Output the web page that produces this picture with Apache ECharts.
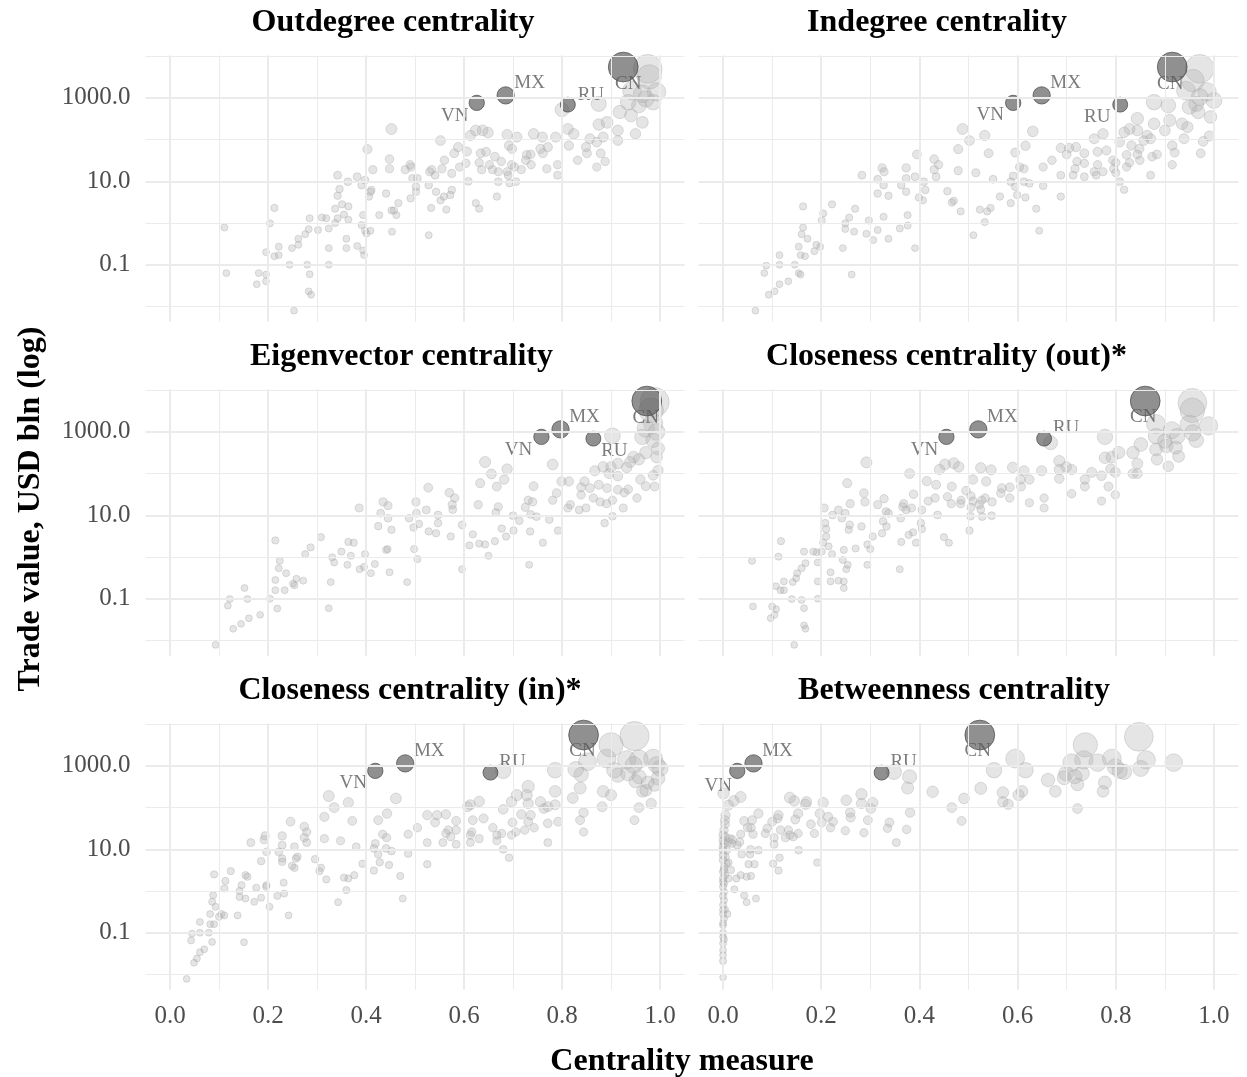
<!DOCTYPE html>
<html>
<head>
<meta charset="utf-8">
<script src="https://cdn.jsdelivr.net/npm/echarts@6/dist/echarts.min.js"></script>
<style>html,body{margin:0;padding:0;background:#fff}#main{width:1247px;height:1077px}</style>
</head>
<body>
<div id="main"></div>
<script>
// ---------- DATA ----------
const panelTitles = ['Outdegree centrality','Indegree centrality','Eigenvector centrality','Closeness centrality (out)*','Closeness centrality (in)*','Betweenness centrality'];
const xTickLabels = ['0.0','0.2','0.4','0.6','0.8','1.0'];
const yTickLabels = ['0.1','10.0','1000.0'];

// highlighted countries: trade value (USD bln) and centrality in each panel
const hlCountries = ['CN','MX','RU','VN'];
const hlTrade = [5500, 1150, 690, 760];
const hlOutdegree   = [0.925, 0.685, 0.812, 0.626];
const hlIndegree    = [0.915, 0.649, 0.809, 0.591];
const hlEigenvector = [0.973, 0.797, 0.864, 0.758];
const hlClosOut     = [0.860, 0.520, 0.654, 0.455];
const hlClosIn      = [0.844, 0.480, 0.654, 0.419];
const hlBetween     = [0.523, 0.062, 0.323, 0.029];

// other countries: [centrality, trade value USD bln]
const outdegree = [[0.975,5000],[0.978,3200],[0.943,1500],[0.964,1260],[0.993,1400],[0.971,950],[0.986,790],[0.957,660],[0.935,790],[0.875,720],[0.8,520],[0.918,460],[0.941,380],[0.964,260],[0.892,260],[0.875,230],[0.914,166],[0.95,138],[0.812,180],[0.824,138],[0.857,105],[0.884,115],[0.914,95],[0.871,87],[0.814,72],[0.849,66],[0.851,47],[0.879,47],[0.888,30],[0.871,22],[0.832,32],[0.791,25],[0.791,14],[0.769,20],[0.787,115],[0.76,115],[0.742,138],[0.771,66],[0.756,60],[0.761,47],[0.736,44],[0.728,43],[0.726,32],[0.737,25],[0.717,19],[0.708,115],[0.688,132],[0.692,72],[0.698,60],[0.697,25],[0.703,22],[0.688,17],[0.69,14],[0.706,9.8],[0.693,9.1],[0.67,9.8],[0.667,4.3],[0.67,17],[0.676,30],[0.663,39],[0.658,19],[0.652,25],[0.649,148],[0.638,166],[0.624,166],[0.613,126],[0.645,51],[0.634,47],[0.631,28],[0.636,19],[0.606,52],[0.604,27],[0.609,10],[0.624,3.0],[0.631,2.2],[0.588,66],[0.58,47],[0.591,22],[0.575,15.5],[0.575,6.2],[0.572,4.7],[0.564,2.1],[0.559,4.3],[0.552,3.5],[0.56,32],[0.552,95],[0.555,20],[0.541,14],[0.543,5.6],[0.533,2.3],[0.528,0.51],[0.528,8.1],[0.534,19],[0.53,17],[0.505,11.7],[0.502,7.4],[0.495,11.7],[0.492,22],[0.49,25],[0.502,5.6],[0.491,3.9],[0.48,19],[0.466,3.0],[0.462,1.55],[0.457,2.0],[0.452,2.0],[0.453,0.62],[0.441,5.1],[0.448,20],[0.448,34],[0.452,180],[0.427,1.55],[0.414,19],[0.411,6.2],[0.406,4.3],[0.409,5.6],[0.403,59],[0.398,10.7],[0.391,8.1],[0.382,12.9],[0.363,9.8],[0.398,0.65],[0.401,0.56],[0.394,1.55],[0.391,0.89],[0.409,0.65],[0.394,0.22],[0.396,0.17],[0.382,0.28],[0.36,0.42],[0.36,0.25],[0.342,14],[0.346,6.5],[0.342,4.5],[0.351,2.8],[0.364,2.5],[0.355,1.6],[0.337,2.2],[0.342,1.3],[0.337,1.0],[0.364,1.2],[0.319,1.3],[0.31,1.35],[0.324,0.74],[0.324,0.25],[0.324,0.10],[0.302,0.68],[0.285,1.3],[0.283,0.71],[0.276,0.54],[0.262,0.42],[0.262,0.30],[0.249,0.25],[0.244,0.10],[0.28,0.10],[0.285,0.059],[0.283,0.023],[0.288,0.019],[0.253,0.0079],[0.222,0.27],[0.222,0.17],[0.213,0.16],[0.196,0.20],[0.213,2.3],[0.204,0.98],[0.181,0.063],[0.196,0.058],[0.196,0.040],[0.177,0.034],[0.115,0.063],[0.111,0.78]];

const indegree = [[0.971,5000],[0.957,2600],[0.943,1500],[0.986,1400],[0.971,1050],[1.0,870],[0.964,720],[0.95,600],[0.968,460],[0.993,350],[0.907,660],[0.878,790],[0.91,290],[0.935,240],[0.946,200],[0.9,166],[0.878,240],[0.844,320],[0.844,166],[0.828,180],[0.817,150],[0.864,126],[0.871,105],[0.857,95],[0.808,87],[0.832,72],[0.848,60],[0.822,43],[0.844,44],[0.849,32],[0.828,28],[0.822,22],[0.874,39],[0.884,44],[0.915,72],[0.92,49],[0.939,105],[0.915,25],[0.871,14],[0.973,47],[0.978,91],[0.991,123],[0.8,28],[0.796,20],[0.8,16],[0.808,9.8],[0.817,6.3],[0.794,32],[0.781,55],[0.763,51],[0.774,138],[0.756,105],[0.763,25],[0.774,17],[0.756,17],[0.76,14],[0.736,47],[0.736,27],[0.736,12.9],[0.719,66],[0.705,63],[0.7,44],[0.688,63],[0.721,30],[0.717,20],[0.713,14],[0.688,14],[0.688,4.3],[0.67,32],[0.652,22],[0.652,7.8],[0.631,158],[0.616,71],[0.613,20],[0.604,22],[0.613,9.8],[0.624,8.9],[0.616,4.1],[0.638,2.2],[0.644,0.65],[0.595,49],[0.591,13.5],[0.595,7.4],[0.586,9.8],[0.599,4.7],[0.586,3.0],[0.564,4.3],[0.55,11.2],[0.541,47],[0.533,126],[0.515,16],[0.502,95],[0.488,180],[0.479,59],[0.479,18],[0.457,5.8],[0.47,3.4],[0.466,3.1],[0.484,1.9],[0.523,2.1],[0.538,1.9],[0.545,2.3],[0.533,1.05],[0.51,0.51],[0.43,34],[0.439,25],[0.43,19],[0.434,12.9],[0.412,6.2],[0.407,3.5],[0.399,4.1],[0.409,9.8],[0.391,12.9],[0.395,44],[0.373,21],[0.373,11.7],[0.363,8.1],[0.373,5.6],[0.376,1.55],[0.376,0.87],[0.36,0.74],[0.391,0.25],[0.337,0.42],[0.337,4.5],[0.327,8.1],[0.327,1.41],[0.324,21],[0.328,17],[0.315,11.2],[0.315,5.1],[0.297,1.15],[0.315,0.68],[0.306,0.39],[0.292,0.55],[0.283,14],[0.269,2.2],[0.267,0.62],[0.257,1.35],[0.249,0.98],[0.249,0.72],[0.244,0.25],[0.262,0.058],[0.222,2.8],[0.204,1.7],[0.201,1.15],[0.198,0.27],[0.19,0.30],[0.186,0.21],[0.163,2.5],[0.163,0.78],[0.16,0.54],[0.154,0.27],[0.172,0.42],[0.146,0.10],[0.158,0.17],[0.167,0.16],[0.154,0.063],[0.158,0.058],[0.133,0.040],[0.115,0.17],[0.115,0.10],[0.115,0.034],[0.088,0.095],[0.084,0.063],[0.105,0.023],[0.093,0.019],[0.066,0.0079]];

const eigenvector = [[0.989,5200],[0.982,3300],[0.986,1600],[0.971,1200],[0.993,1000],[0.964,760],[0.986,630],[0.996,400],[0.903,810],[0.971,320],[0.993,250],[0.946,250],[0.957,220],[0.939,190],[0.932,141],[0.914,174],[0.9,145],[0.884,145],[0.867,117],[0.896,100],[0.914,87],[0.96,72],[0.986,91],[0.996,120],[0.971,50],[0.989,49],[0.953,26],[0.935,42],[0.927,35],[0.914,41],[0.892,45],[0.875,54],[0.857,45],[0.839,47],[0.846,65],[0.864,26],[0.878,21],[0.891,19],[0.903,23],[0.925,15],[0.903,9.5],[0.887,6.5],[0.839,31],[0.849,15],[0.835,13.5],[0.817,18],[0.812,15],[0.799,65],[0.814,65],[0.781,166],[0.781,23],[0.789,34],[0.774,7.9],[0.792,4.3],[0.761,2.2],[0.742,50],[0.731,23],[0.74,21],[0.725,15.5],[0.736,10.5],[0.748,9.3],[0.713,7.4],[0.7,9.8],[0.701,4.3],[0.735,4.1],[0.733,0.65],[0.688,129],[0.656,98],[0.682,72],[0.667,49],[0.67,16],[0.665,11.7],[0.677,4.8],[0.686,3.1],[0.663,2.4],[0.643,190],[0.633,59],[0.629,18],[0.618,3.5],[0.631,2.1],[0.643,2.0],[0.611,1.9],[0.65,1.07],[0.596,5.9],[0.596,0.51],[0.573,3.1],[0.577,13.8],[0.581,26],[0.57,35],[0.576,18],[0.547,10.2],[0.547,6.5],[0.543,3.7],[0.528,4.1],[0.527,46],[0.523,13.5],[0.502,21],[0.503,11.2],[0.508,6.2],[0.497,5.1],[0.498,1.55],[0.505,0.89],[0.488,8.5],[0.484,0.25],[0.452,4.5],[0.445,8.5],[0.445,17],[0.435,21],[0.43,11.2],[0.425,5.5],[0.441,1.48],[0.444,1.55],[0.448,0.43],[0.418,0.68],[0.41,0.41],[0.398,1.17],[0.396,0.58],[0.387,0.51],[0.386,15],[0.369,1.07],[0.364,2.3],[0.375,2.2],[0.362,0.65],[0.35,1.35],[0.335,0.74],[0.331,0.98],[0.328,0.25],[0.324,0.059],[0.308,3.0],[0.287,1.7],[0.276,1.17],[0.272,0.27],[0.258,0.30],[0.251,0.23],[0.254,0.21],[0.237,0.41],[0.224,0.81],[0.222,0.54],[0.215,0.28],[0.215,0.16],[0.215,2.5],[0.219,0.058],[0.234,0.16],[0.204,0.10],[0.184,0.041],[0.158,0.098],[0.152,0.18],[0.161,0.034],[0.145,0.025],[0.129,0.019],[0.122,0.098],[0.118,0.068],[0.093,0.0078]];

const closenessOut = [[0.956,5000],[0.956,3300],[0.882,1550],[0.914,1100],[0.95,1500],[0.989,1400],[0.957,950],[0.925,790],[0.964,630],[0.882,790],[0.9,600],[0.882,380],[0.903,460],[0.922,420],[0.928,260],[0.884,220],[0.851,500],[0.835,320],[0.844,174],[0.907,150],[0.778,760],[0.667,550],[0.806,320],[0.778,240],[0.792,250],[0.79,129],[0.799,107],[0.771,89],[0.835,100],[0.844,100],[0.799,31],[0.785,49],[0.771,22],[0.751,107],[0.737,72],[0.737,49],[0.71,126],[0.71,33],[0.685,200],[0.685,126],[0.685,76],[0.699,145],[0.649,117],[0.654,26],[0.654,15],[0.624,20],[0.624,72],[0.613,117],[0.606,72],[0.607,49],[0.59,141],[0.584,47],[0.584,26],[0.568,45],[0.566,34],[0.548,21],[0.536,65],[0.534,26],[0.525,138],[0.546,123],[0.509,72],[0.495,39],[0.505,29],[0.509,22],[0.527,23],[0.522,18],[0.525,13.8],[0.505,15.5],[0.504,9.5],[0.528,9.3],[0.547,9.8],[0.502,4.3],[0.485,23],[0.484,19],[0.466,49],[0.465,19],[0.457,28],[0.47,178],[0.452,166],[0.441,126],[0.48,145],[0.45,3.0],[0.46,2.2],[0.434,54],[0.415,66],[0.432,26],[0.418,22],[0.437,10.2],[0.405,13.5],[0.403,6.5],[0.405,4.7],[0.393,2.2],[0.38,100],[0.388,32],[0.384,15],[0.373,13.5],[0.368,19],[0.362,8.5],[0.366,16],[0.378,3.4],[0.387,3.9],[0.363,2.3],[0.36,0.51],[0.337,11.2],[0.333,5.4],[0.326,7.2],[0.324,3.7],[0.332,12.3],[0.328,25],[0.315,18],[0.305,3.1],[0.294,2.0],[0.3,1.55],[0.294,0.65],[0.289,21],[0.287,34],[0.292,186],[0.282,5.4],[0.27,1.6],[0.259,19],[0.253,59],[0.258,5.9],[0.256,4.5],[0.249,11.2],[0.242,8.5],[0.235,13.5],[0.254,0.65],[0.251,0.51],[0.246,1.48],[0.244,0.85],[0.246,0.26],[0.246,0.18],[0.235,0.27],[0.219,0.43],[0.219,0.26],[0.223,10.2],[0.222,1.17],[0.215,1.8],[0.206,15],[0.208,6.5],[0.21,4.7],[0.21,3.1],[0.204,2.2],[0.201,1.35],[0.191,1.3],[0.193,0.74],[0.193,0.26],[0.193,0.10],[0.184,1.35],[0.165,1.35],[0.168,0.71],[0.16,0.54],[0.151,0.41],[0.149,0.31],[0.142,0.25],[0.16,0.093],[0.165,0.059],[0.165,0.023],[0.168,0.019],[0.124,0.26],[0.118,2.4],[0.113,1.02],[0.108,0.20],[0.117,0.16],[0.124,0.16],[0.14,0.098],[0.1,0.065],[0.108,0.056],[0.105,0.041],[0.097,0.034],[0.059,0.81],[0.061,0.065],[0.145,0.0078]];

const closenessIn = [[0.948,5200],[0.9,3200],[0.891,1500],[0.852,1260],[0.932,1400],[0.957,1450],[0.986,1500],[0.993,1050],[0.946,1050],[1.0,870],[0.907,790],[0.914,600],[0.935,660],[0.957,550],[0.95,430],[0.975,400],[0.996,510],[0.989,350],[0.964,245],[0.971,260],[0.828,830],[0.839,620],[0.786,790],[0.68,760],[0.837,295],[0.822,170],[0.884,245],[0.9,200],[0.882,105],[0.844,76],[0.837,50],[0.844,26],[0.957,100],[0.982,126],[0.948,50],[0.786,245],[0.786,117],[0.771,105],[0.763,95],[0.756,138],[0.792,46],[0.771,42],[0.771,14.5],[0.743,33],[0.731,320],[0.731,126],[0.728,200],[0.708,200],[0.697,138],[0.717,69],[0.731,46],[0.736,66],[0.724,29],[0.706,26],[0.699,44],[0.697,22],[0.68,91],[0.677,24],[0.667,22],[0.659,33],[0.667,16],[0.68,10],[0.692,6.3],[0.631,141],[0.613,117],[0.607,105],[0.618,50],[0.64,55],[0.616,26],[0.613,22],[0.631,18],[0.613,14.5],[0.584,48],[0.584,29],[0.568,29],[0.563,24],[0.557,14.5],[0.584,13.2],[0.573,20],[0.563,69],[0.545,66],[0.525,66],[0.541,44],[0.525,14.5],[0.525,4.4],[0.505,33],[0.486,23],[0.486,7.9],[0.47,2.3],[0.475,0.66],[0.461,166],[0.443,72],[0.425,50],[0.434,23],[0.442,19],[0.419,13.8],[0.416,10.5],[0.441,10.5],[0.452,9.1],[0.425,7.6],[0.428,4.9],[0.447,4.2],[0.416,3.1],[0.393,4.5],[0.38,11.5],[0.372,48],[0.364,132],[0.335,100],[0.324,190],[0.315,60],[0.315,18],[0.348,16],[0.296,5.8],[0.308,3.6],[0.305,3.0],[0.319,1.9],[0.355,2.1],[0.364,2.0],[0.376,2.4],[0.36,1.05],[0.343,0.54],[0.279,26],[0.274,19],[0.274,35],[0.279,14.5],[0.246,46],[0.254,11.5],[0.257,6.0],[0.26,6.6],[0.249,4.0],[0.254,3.6],[0.242,0.26],[0.229,21],[0.229,12.6],[0.229,6.0],[0.229,5.0],[0.222,8.7],[0.232,1.58],[0.233,0.87],[0.219,0.76],[0.203,0.42],[0.197,1.38],[0.196,1.26],[0.197,8.7],[0.194,21],[0.192,17],[0.186,5.2],[0.186,0.69],[0.176,1.2],[0.172,0.55],[0.165,14.5],[0.158,2.2],[0.154,2.4],[0.154,0.66],[0.146,1.38],[0.142,1.0],[0.142,0.72],[0.151,0.059],[0.138,0.26],[0.124,3.0],[0.113,1.74],[0.111,1.15],[0.105,0.28],[0.1,0.24],[0.111,0.26],[0.093,0.42],[0.088,0.79],[0.086,0.55],[0.09,2.5],[0.082,0.28],[0.09,0.16],[0.082,0.16],[0.079,0.10],[0.086,0.06],[0.061,0.18],[0.061,0.10],[0.045,0.095],[0.043,0.065],[0.07,0.040],[0.061,0.034],[0.055,0.024],[0.049,0.019],[0.034,0.0078]];

const betweenness = [[0.847,5000],[0.738,3200],[0.595,1500],[0.71,1200],[0.735,1400],[0.763,1200],[0.792,1500],[0.862,1400],[0.918,1200],[0.799,950],[0.808,760],[0.817,720],[0.851,870],[0.552,790],[0.616,790],[0.699,660],[0.731,660],[0.717,550],[0.695,520],[0.662,460],[0.722,360],[0.778,400],[0.774,245],[0.677,245],[0.609,245],[0.602,200],[0.57,230],[0.57,138],[0.581,120],[0.525,290],[0.491,166],[0.466,100],[0.486,48],[0.722,95],[0.427,240],[0.38,550],[0.348,720],[0.376,295],[0.381,76],[0.374,30],[0.353,14.5],[0.339,44],[0.335,32],[0.305,132],[0.301,95],[0.295,50],[0.282,210],[0.282,126],[0.287,25],[0.251,150],[0.259,76],[0.26,58],[0.249,28],[0.224,46],[0.219,33],[0.214,60],[0.204,132],[0.197,72],[0.201,44],[0.186,24],[0.179,40],[0.17,138],[0.168,120],[0.153,72],[0.147,52],[0.145,145],[0.136,174],[0.153,24],[0.143,20],[0.136,22],[0.127,19],[0.133,29],[0.117,29],[0.111,55],[0.113,66],[0.1,46],[0.104,19],[0.104,13.2],[0.154,9.5],[0.192,4.8],[0.115,6.3],[0.102,4.5],[0.113,3.1],[0.09,32],[0.086,24],[0.072,72],[0.072,9.5],[0.059,50],[0.061,23],[0.057,33],[0.05,33],[0.043,48],[0.036,23],[0.034,15],[0.056,10],[0.055,7.6],[0.038,7.6],[0.052,4.4],[0.064,4.4],[0.048,2.2],[0.057,2.3],[0.027,2.0],[0.036,2.4],[0.023,1.1],[0.043,0.78],[0.048,0.54],[0.067,0.66],[0.036,180],[0.022,145],[0.011,115],[0.019,17],[0.029,12.6],[0.016,3.2],[0.011,4.8],[0.011,2.0],[0.009,0.28],[0.001,220],[0.005,66],[0.004,50],[0.004,40],[0.002,29],[0.0,22],[0.004,20],[0.0,16],[0.002,13.8],[0.0,11.5],[0.005,6.6],[0.0,5.5],[0.007,4.6],[0.002,3.8],[0.0,2.9],[0.004,2.4],[0.0,2.0],[0.002,1.5],[0.0,1.26],[0.002,0.95],[0.0,0.76],[0.002,0.60],[0.0,0.46],[0.004,0.36],[0.0,0.28],[0.002,0.22],[0.0,0.17],[0.0,0.10],[0.002,0.069],[0.0,0.055],[0.0,0.038],[0.0,0.029],[0.0,0.021],[0.0,0.0085],[0.0,9.5],[0.0,7.2],[0.002,3.2],[0.0,1.66],[0.0,0.35],[0.0,0.15],[0.0,0.079],[0.011,15],[0.014,18],[0.018,13.8],[0.007,9.5]];

// gridline positions (data units)
const xGridValues = [0,0.1,0.2,0.3,0.4,0.5,0.6,0.7,0.8,0.9,1.0];
const yGridValues = [0.01,0.1,1,10,100,1000,10000];

// ---------- LAYOUT / STYLE ----------
const layout = {
  left: [145.5, 698.5], width: [539, 540],
  top: [55.4, 389.4, 723.4], height: 266.4,
  titleX: [393, 937, 401.5, 946.5, 410, 954], titleY: [23, 357, 691]
};
const labelOffsets = [
  {CN:[5,17],  MX:[24,-12], RU:[23,-10], VN:[-22,13]},
  {CN:[-2,17], MX:[24,-12], RU:[-23,12], VN:[-23,12]},
  {CN:[-1,17], MX:[24,-12], RU:[21,12],  VN:[-23,13]},
  {CN:[-2,16], MX:[24,-12], RU:[22,-11], VN:[-22,13]},
  {CN:[-1,16], MX:[24,-12], RU:[22,-11], VN:[-22,12]},
  {CN:[-2,16], MX:[24,-12], RU:[22,-11], VN:[-19,15]}
];
const FONT = '"Liberation Serif","Times New Roman",serif';
const GRID_COLOR = '#ebebeb';
const yMin = 0.00427, yMax = 10470;

const panels = [outdegree, indegree, eigenvector, closenessOut, closenessIn, betweenness];
const hlX = [hlOutdegree, hlIndegree, hlEigenvector, hlClosOut, hlClosIn, hlBetween];

function fmtX(v) {
  const s = Math.round(v * 10);
  if (Math.abs(v * 10 - s) > 1e-6 || s % 2 !== 0 || s < 0 || s > 10) return '';
  const t = (s / 10).toFixed(1);
  return xTickLabels.indexOf(t) >= 0 ? t : '';
}
function fmtY(v) {
  const l = Math.log10(v), r = Math.round(l);
  if (Math.abs(l - r) > 1e-6) return '';
  const t = Math.pow(10, r).toFixed(1);
  return yTickLabels.indexOf(t) >= 0 ? t : '';
}
const sizeFn = function (val) { return 6.8 + 0.31 * Math.sqrt(val[1]); };

const grids = [], xAxes = [], yAxes = [], series = [], graphics = [];
panels.forEach(function (pts, i) {
  const col = i % 2, row = Math.floor(i / 2);
  grids.push({left: layout.left[col], top: layout.top[row], width: layout.width[col], height: layout.height, containLabel: false});
  xAxes.push({
    type: 'value', gridIndex: i, min: -0.05, max: 1.05, splitNumber: 5,
    axisLine: {show: false}, axisTick: {show: false}, splitLine: {show: false},
    axisLabel: {show: row === 2, margin: 14, color: '#4d4d4d', fontFamily: FONT, fontSize: 25, formatter: fmtX, showMinLabel: false, showMaxLabel: false}
  });
  yAxes.push({
    type: 'log', logBase: 10, gridIndex: i, min: yMin, max: yMax, splitNumber: 6,
    axisLine: {show: false}, axisTick: {show: false}, splitLine: {show: false},
    axisLabel: {show: col === 0, margin: 15, color: '#4d4d4d', fontFamily: FONT, fontSize: 25, formatter: fmtY, showMinLabel: false, showMaxLabel: false}
  });
  const ml = [];
  xGridValues.forEach(function (v, k) { ml.push({xAxis: v, lineStyle: {width: k % 2 === 0 ? 2 : 1}}); });
  yGridValues.forEach(function (v) {
    const major = (v === 0.1 || v === 10 || v === 1000);
    ml.push({yAxis: v, lineStyle: {width: major ? 2 : 1}});
  });
  series.push({
    type: 'scatter', xAxisIndex: i, yAxisIndex: i, data: [], z: 1, silent: true,
    markLine: {silent: true, symbol: 'none', label: {show: false}, animation: false,
      lineStyle: {color: GRID_COLOR, type: 'solid'}, emphasis: {disabled: true}, data: ml}
  });
  series.push({
    type: 'scatter', xAxisIndex: i, yAxisIndex: i, data: pts, z: 2, silent: true,
    symbolSize: sizeFn,
    itemStyle: {color: 'rgba(175,175,175,0.4)', borderColor: 'rgba(165,165,165,0.45)', borderWidth: 1}
  });
  const hl = hlCountries.map(function (c, k) {
    return {name: c, value: [hlX[i][k], hlTrade[k]], label: {offset: labelOffsets[i][c]}};
  });
  series.push({
    type: 'scatter', xAxisIndex: i, yAxisIndex: i, data: hl, z: 3, silent: true,
    symbolSize: sizeFn,
    itemStyle: {color: 'rgba(77,77,77,0.78)', borderColor: 'rgba(60,60,60,0.8)', borderWidth: 1},
    label: {show: true, position: 'inside', formatter: '{b}', color: '#5a5a5a', fontFamily: FONT, fontSize: 19}
  });
  graphics.push({type: 'text', x: layout.titleX[i], y: layout.titleY[row], silent: true,
    style: {text: panelTitles[i], font: 'bold 32px ' + FONT, fill: '#000', align: 'center', verticalAlign: 'middle'}});
});
graphics.push({type: 'text', x: 682, y: 1062, silent: true,
  style: {text: 'Centrality measure', font: 'bold 32px ' + FONT, fill: '#000', align: 'center', verticalAlign: 'middle'}});
graphics.push({type: 'text', x: 31, y: 509, rotation: Math.PI / 2, silent: true,
  style: {text: 'Trade value, USD bln (log)', font: 'bold 32px ' + FONT, fill: '#000', align: 'center', verticalAlign: 'middle'}});

const chart = echarts.init(document.getElementById('main'), null, {renderer: 'canvas'});
chart.setOption({
  animation: false,
  backgroundColor: '#ffffff',
  grid: grids, xAxis: xAxes, yAxis: yAxes, series: series, graphic: graphics
});
</script>
</body>
</html>
